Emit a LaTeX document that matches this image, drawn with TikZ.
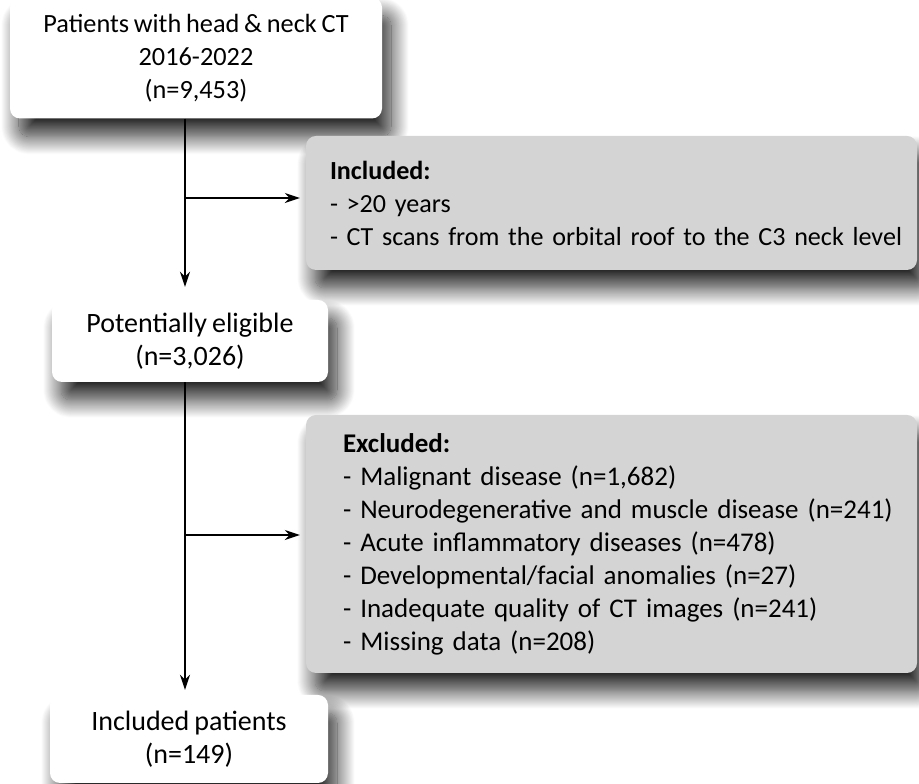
\documentclass[tikz,border=0pt]{standalone}
\usepackage{fontspec}
\setmainfont{Carlito}[WordSpace=0.8]
\usetikzlibrary{arrows.meta,shadows.blur}
\definecolor{boxgrey}{HTML}{D4D4D4}

\tikzset{
  card/.style={rounded corners=10pt, inner sep=0pt,
    blur shadow={shadow xshift=9pt, shadow yshift=-18pt,
      shadow blur radius=18pt, shadow blur steps=24, shadow opacity=85}},
  whitebox/.style={card, fill=white, align=center,
    font=\fontsize{28}{33}\selectfont},
  greybox/.style={card, fill=boxgrey, align=left, inner xsep=6pt,
    font=\fontsize{27}{33}\selectfont,
    text width=599pt, minimum width=611pt,
    execute at begin node={\leftskip=#1\rightskip=-40pt plus 1fil}},
  flow/.style={-{Stealth[length=15pt,width=10pt]}, line width=1.4pt}
}

\begin{document}
\begin{tikzpicture}[x=1pt, y=1pt]
\useasboundingbox (0,0) rectangle (919,784);

% boxes
\node [whitebox, font=\fontsize{26.3}{33}\selectfont,
  minimum width=372pt, minimum height=121pt] (pts) at (196,726)
  {Patients with head \& neck CT\\2016-2022\\(n=9,453)};
\node [greybox=18pt, font=\fontsize{26.1}{33}\selectfont,
  minimum height=134pt] (incl) at (611.5,581)
  {\textbf{Included:}\\- >20 years\\- CT scans from the orbital roof to the C3 neck level};
\node [whitebox, minimum width=276pt, minimum height=82pt] (elig) at (190,443)
  {Potentially eligible\\(n=3,026)};
\node [greybox=31pt, minimum height=258pt] (excl) at (611.5,240)
  {\textbf{Excluded:}\\- Malignant disease (n=1,682)\\- Neurodegenerative and muscle disease (n=241)\\- Acute inflammatory diseases (n=478)\\- Developmental/facial anomalies (n=27)\\- Inadequate quality of CT images (n=241)\\- Missing data (n=208)};
\node [whitebox, minimum width=278pt, minimum height=88pt] (final) at (189,45)
  {Included patients\\(n=149)};

% trunk and branches
\coordinate (trunk) at (185,0);
\coordinate (b1) at (185,586);
\coordinate (b2) at (185,249);
\draw [flow, shorten >=13pt] (pts.south -| trunk) -- (elig.north -| trunk);
\draw [flow, shorten >=5pt] (elig.south -| trunk) -- (final.north -| trunk);
\draw [flow, shorten >=6pt] (b1) -- (b1 -| incl.west);
\draw [flow, shorten >=6pt] (b2) -- (b2 -| excl.west);
\end{tikzpicture}
\end{document}
